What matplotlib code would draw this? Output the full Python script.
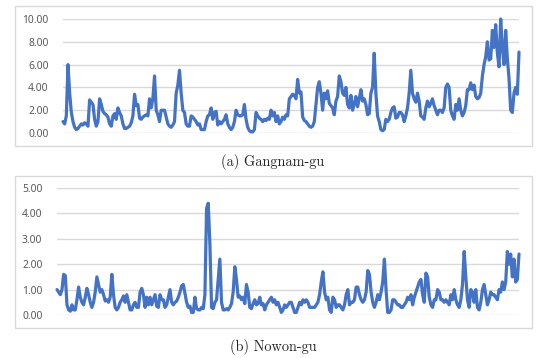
import matplotlib
matplotlib.use("Agg")
import matplotlib.pyplot as plt
from matplotlib.patches import Rectangle

gangnam = [
    1.0, 0.8, 1.5, 6.0, 3.5, 1.8, 1.0, 0.5, 0.3, 0.4, 0.6, 0.8, 0.7, 0.9, 0.8, 0.6,
    2.9, 2.7, 2.5, 1.2, 0.6, 1.0, 3.0, 2.5, 1.9, 1.7, 1.6, 1.4, 0.8, 0.6, 1.5, 1.7,
    1.2, 2.2, 1.8, 1.5, 0.8, 0.4, 0.4, 0.5, 0.6, 0.9, 1.5, 3.4, 2.4, 2.5, 1.3, 1.2,
    1.4, 1.5, 1.6, 1.5, 3.0, 2.2, 3.0, 5.0, 2.0, 1.6, 1.0, 2.0, 2.0, 2.0, 1.4, 0.8,
    0.6, 0.5, 0.7, 1.0, 3.5, 4.2, 5.5, 3.5, 2.0, 1.8, 0.8, 0.6, 0.6, 1.5, 1.4, 1.2,
    1.0, 0.7, 0.8, 0.3, 0.3, 0.3, 1.0, 1.5, 1.6, 2.2, 1.2, 1.8, 1.9, 0.7, 1.0, 0.8,
    1.0, 1.2, 1.6, 0.8, 0.5, 0.3, 0.5, 1.0, 2.0, 1.6, 1.5, 1.5, 1.6, 2.5, 1.2, 0.5,
    0.2, 0.1, 0.1, 0.3, 1.8, 1.5, 1.3, 1.2, 1.0, 1.2, 1.1, 1.3, 1.2,
    2.0, 1.5, 1.8, 1.0, 1.5, 0.8, 1.0, 1.4, 1.2, 1.6, 1.5, 3.0, 3.2, 3.4, 3.3, 3.0,
    4.7, 3.5, 3.6, 1.4, 1.1, 1.0, 0.8, 0.6, 0.5, 0.6, 1.0, 2.5, 4.0, 4.5, 3.5, 2.0,
    3.5, 3.0, 3.7, 2.6, 2.4, 2.2, 1.6, 2.8, 3.2, 5.0, 4.5, 3.5, 3.3, 4.0, 2.5, 2.2,
    3.3, 2.0, 2.5, 3.2, 2.3, 3.0, 3.8, 2.8, 3.0, 2.5, 1.6, 1.7, 3.5, 4.0, 7.0, 3.5,
    1.5, 1.0, 0.3, 0.2, 0.3, 1.2, 1.0, 1.2, 1.8, 2.2, 2.3, 1.3, 1.4, 1.8, 1.8, 1.6,
    1.0, 1.5, 2.2, 3.5, 5.5, 3.5, 3.0, 2.7, 3.5, 2.8, 1.5, 1.4, 1.2, 2.2, 2.8, 2.3,
    2.6, 3.0, 2.4, 2.0, 1.6, 2.0, 2.0, 1.8, 2.2, 4.0, 4.3, 4.0, 2.0, 1.5, 1.2, 2.5,
    2.0, 3.0, 2.0, 1.5, 1.8, 2.4, 3.8, 3.8, 4.4, 3.8, 4.2, 3.2, 3.0, 3.1, 3.5, 5.0,
    6.0, 6.7, 8.0, 6.4, 6.5, 9.0, 7.5, 9.5, 7.0, 5.8, 10.0, 7.5, 6.0, 9.0, 6.5, 4.8,
    2.0, 1.8, 3.5, 4.0, 3.4, 7.1,
]

nowon = [
    1.0, 0.9, 0.8, 1.0, 1.6, 1.55, 0.4, 0.2, 0.15, 0.4, 0.2, 0.2, 0.6, 1.1, 0.7, 0.5,
    0.4, 0.7, 1.05, 0.8, 0.5, 0.3, 0.5, 0.9, 1.5, 1.2, 0.9, 1.0, 0.8, 0.55, 0.6, 0.5,
    0.7, 1.6, 0.8, 0.3, 0.2, 0.3, 0.5, 0.6, 0.75, 0.5, 0.8, 0.5, 0.2, 0.2, 0.4, 0.5,
    0.3, 0.3, 0.9, 1.05, 0.8, 0.3, 0.7, 0.4, 0.7, 0.4, 0.6, 0.8, 0.35, 0.3, 0.8, 0.6,
    0.6, 0.3, 0.4, 0.7, 1.0, 0.5, 0.4, 0.5, 0.55, 0.7, 0.9, 1.15, 1.2, 0.85, 0.5, 0.3,
    0.35, 0.1, 0.1, 0.7, 0.25, 0.2, 0.2, 0.3, 0.25, 0.8, 4.2, 4.4, 2.8, 0.3, 0.25, 0.5,
    0.6, 1.4, 2.2, 0.5, 0.2, 0.2, 0.25, 0.2, 0.3, 0.45, 0.9, 1.9, 1.4, 0.7, 0.75, 0.6,
    0.7, 0.45, 1.2, 0.9, 0.3, 0.25, 0.45, 0.6, 0.4, 0.45, 0.7, 0.4, 0.45, 0.2, 0.4, 0.5,
    0.6, 0.7, 0.5, 0.6, 0.4, 0.5, 0.3, 0.1, 0.2, 0.4, 0.3, 0.4, 0.5, 0.5, 0.3, 0.1,
    0.1, 0.3, 0.5, 0.4, 0.6, 0.5, 0.6, 0.5, 0.3, 0.3, 0.3, 0.3, 0.4, 0.5, 0.8, 1.3,
    1.7, 0.9, 0.6, 0.7, 0.2, 0.1, 0.7, 0.6, 0.3, 0.4, 0.4, 0.3, 0.2, 0.4, 0.8, 1.0,
    0.4, 0.5, 0.5, 0.6, 1.1, 1.1, 0.8, 0.6, 0.5, 0.6, 0.9, 1.75, 1.6, 0.9, 0.5, 0.3,
    0.5, 0.8, 0.6, 0.9, 1.3, 2.2, 1.0, 0.1, 0.1, 0.2, 0.6, 0.6, 0.5, 0.4, 0.4, 0.3,
    0.3, 0.4, 0.5, 0.7, 0.6, 0.8, 0.4, 0.7, 0.9, 1.1, 1.3, 1.4, 0.8, 0.5, 1.65, 1.5,
    0.7, 0.4, 0.3, 0.6, 0.6, 1.0, 0.9, 0.6, 0.6, 0.5, 0.6, 0.5, 0.4, 0.8, 0.6, 1.0,
    0.6, 0.4, 0.3, 0.6, 1.2, 2.5, 1.5, 0.6, 0.3, 1.0, 0.9, 0.5, 1.0, 0.3, 0.2, 0.5,
    1.0, 1.2, 0.8, 0.4, 0.6, 0.9, 0.8, 0.8, 0.7, 0.6, 1.0, 0.9, 1.3, 1.0, 1.3, 2.5,
    2.0, 2.4, 1.5, 2.2, 1.3, 1.4, 2.4,
]

gangnam_ticks = [0, 2, 4, 6, 8, 10]
nowon_ticks = [0, 1, 2, 3, 4, 5]
captions = ["(a) Gangnam-gu", "(b) Nowon-gu"]

W, H = 545, 358
fig = plt.figure(figsize=(W / 100, H / 100), dpi=100)

LINE = "#4472C4"
GRID = "#d9d9d9"
LABEL = "#595959"


def fx(px):
    return px / W


def fy(py):
    return 1 - py / H


panels = [
    dict(data=gangnam, ticks=gangnam_ticks, box=(15, 6, 532, 146),
         plot=(63, 19, 519, 133), cap_y=162, cap=captions[0]),
    dict(data=nowon, ticks=nowon_ticks, box=(15, 176, 532, 328),
         plot=(57, 188, 519, 315), cap_y=347, cap=captions[1]),
]

for p in panels:
    x0, y0, x1, y1 = p["box"]
    rect = Rectangle((fx(x0), fy(y1)), fx(x1 - x0), (y1 - y0) / H,
                     transform=fig.transFigure, facecolor="white",
                     edgecolor=GRID, linewidth=1.0, zorder=-5)
    fig.add_artist(rect)
    px0, py0, px1, py1 = p["plot"]
    ax = fig.add_axes([fx(px0), fy(py1), fx(px1 - px0), (py1 - py0) / H])
    ax.set_zorder(2)
    ax.patch.set_visible(False)
    data = p["data"]
    ax.plot(range(len(data)), data, color=LINE, linewidth=2.3,
            solid_joinstyle="round", solid_capstyle="round", clip_on=False, zorder=3)
    ax.set_xlim(0, len(data) - 1)
    ax.set_ylim(p["ticks"][0], p["ticks"][-1])
    ax.set_yticks(p["ticks"])
    ax.set_yticklabels([f"{t:.2f}" for t in p["ticks"]], fontsize=7.4,
                       color=LABEL, family="Noto Sans")
    ax.set_xticks([])
    ax.tick_params(axis="y", length=0, pad=10.5)
    for s in ax.spines.values():
        s.set_visible(False)
    ax.grid(axis="y", color=GRID, linewidth=1.0, zorder=0)
    ax.set_axisbelow(True)
    fig.text(fx(273), fy(p["cap_y"]), p["cap"], ha="center", va="center",
             fontsize=10.3, family=["cmr10", "DejaVu Serif"], color="#222222")

fig.savefig("out.png", dpi=100)
